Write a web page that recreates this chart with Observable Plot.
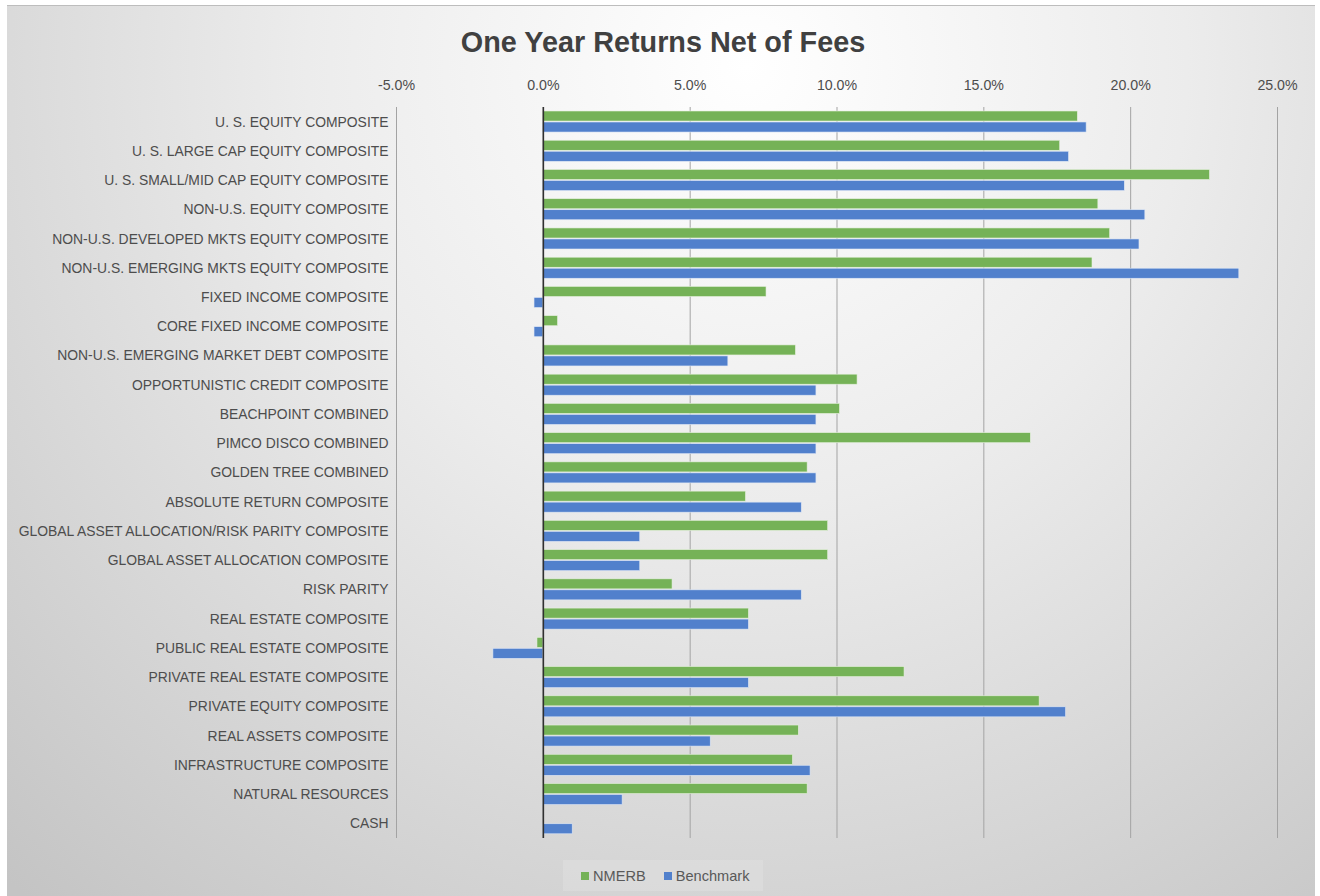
<!DOCTYPE html>
<html>
<head>
<meta charset="utf-8">
<script src="https://cdn.jsdelivr.net/npm/d3@7"></script>
<script src="https://cdn.jsdelivr.net/npm/@observablehq/plot@0.6"></script>
<style>
  html, body { margin: 0; padding: 0; background: #ffffff; width: 1320px; height: 896px; overflow: hidden; }
  #frame {
    position: absolute; left: 7px; top: 5px; width: 1308px; height: 891px;
    border-top: 1.5px solid #bdbdbd;
    background: radial-gradient(circle 1100px at 740px 60px, #ffffff 0%, #ececec 40%, #c4c4c4 100%);
  }
  #title {
    position: absolute; left: 0; top: 25px; width: 1326px; text-align: center;
    font-family: "Liberation Sans", Arial, sans-serif; font-weight: bold; font-size: 28.8px;
    color: #404040; line-height: 34px;
  }
  #chart { position: absolute; left: 0; top: 60px; }
  #legend {
    position: absolute; left: 563px; top: 860px; width: 200px; height: 31px;
    background: rgba(255,255,255,0.14);
    display: flex; align-items: center; padding-left: 18px; box-sizing: border-box;
    font-family: "Liberation Sans", Arial, sans-serif; font-size: 14.6px; color: #595959;
  }
  .sw { display: inline-block; width: 8px; height: 8px; margin-right: 4px; }
  .item { display: flex; align-items: center; margin-right: 18px; }
</style>
</head>
<body>
<div id="frame"></div>
<div id="title">One Year Returns Net of Fees</div>
<div id="chart"></div>
<div id="legend"></div>
<script>
const categories = [
  "U. S. EQUITY COMPOSITE",
  "U. S. LARGE CAP EQUITY COMPOSITE",
  "U. S. SMALL/MID CAP EQUITY COMPOSITE",
  "NON-U.S. EQUITY COMPOSITE",
  "NON-U.S. DEVELOPED MKTS EQUITY COMPOSITE",
  "NON-U.S. EMERGING MKTS EQUITY COMPOSITE",
  "FIXED INCOME COMPOSITE",
  "CORE FIXED INCOME COMPOSITE",
  "NON-U.S. EMERGING MARKET DEBT COMPOSITE",
  "OPPORTUNISTIC CREDIT COMPOSITE",
  "BEACHPOINT COMBINED",
  "PIMCO DISCO COMBINED",
  "GOLDEN TREE COMBINED",
  "ABSOLUTE RETURN COMPOSITE",
  "GLOBAL ASSET ALLOCATION/RISK PARITY COMPOSITE",
  "GLOBAL ASSET ALLOCATION COMPOSITE",
  "RISK PARITY",
  "REAL ESTATE COMPOSITE",
  "PUBLIC REAL ESTATE COMPOSITE",
  "PRIVATE REAL ESTATE COMPOSITE",
  "PRIVATE EQUITY COMPOSITE",
  "REAL ASSETS COMPOSITE",
  "INFRASTRUCTURE COMPOSITE",
  "NATURAL RESOURCES",
  "CASH"
];
const nmerb = [18.2, 17.6, 22.7, 18.9, 19.3, 18.7, 7.6, 0.5, 8.6, 10.7, 10.1, 16.6, 9.0, 6.9, 9.7, 9.7, 4.4, 7.0, -0.2, 12.3, 16.9, 8.7, 8.5, 9.0, null];
const benchmark = [18.5, 17.9, 19.8, 20.5, 20.3, 23.7, -0.3, -0.3, 6.3, 9.3, 9.3, 9.3, 9.3, 8.8, 3.3, 3.3, 8.8, 7.0, -1.7, 7.0, 17.8, 5.7, 9.1, 2.7, 1.0];
const xTicks = [-5, 0, 5, 10, 15, 20, 25];
const seriesNames = ["NMERB", "Benchmark"];
const seriesColors = ["#75b257", "#5180cc"];

const rows = categories.map((c, i) => ({category: c, NMERB: nmerb[i], Benchmark: benchmark[i]}));

const chart = Plot.plot({
  width: 1320,
  height: 788,
  marginLeft: 396,
  marginRight: 43,
  marginTop: 47,
  marginBottom: 10,
  style: {background: "transparent", fontFamily: "'Liberation Sans', Arial, sans-serif", fontSize: "13.9px", color: "#4d4d4d", overflow: "visible"},
  x: {domain: [-5, 25], ticks: xTicks, tickFormat: d => d.toFixed(1) + "%", axis: "top", tickSize: 0, tickPadding: 18, label: null},
  y: {domain: categories, padding: 0, round: false, tickSize: 0, tickPadding: 8, label: null},
  marks: [
    Plot.gridX(xTicks, {stroke: "#a3a3a3", strokeOpacity: 1, strokeWidth: 1}),
    Plot.barX(rows.filter(d => d.NMERB != null), {y: "category", x: "NMERB", fill: seriesColors[0], insetTop: 4, insetBottom: 15.2, stroke: "#e6f0de", strokeWidth: 0.6}),
    Plot.barX(rows.filter(d => d.Benchmark != null), {y: "category", x: "Benchmark", fill: seriesColors[1], insetTop: 15, insetBottom: 4.2, stroke: "#dfe7f5", strokeWidth: 0.6}),
    Plot.ruleX([0], {stroke: "#303030", strokeWidth: 1.6})
  ]
});
chart.querySelectorAll("g[aria-label='x-axis tick label'] text").forEach(t => t.setAttribute("font-size", "14.2px"));
document.getElementById("chart").appendChild(chart);

const legend = document.getElementById("legend");
seriesNames.forEach((name, i) => {
  const item = document.createElement("span");
  item.className = "item";
  const sw = document.createElement("span");
  sw.className = "sw";
  sw.style.background = seriesColors[i];
  item.appendChild(sw);
  item.appendChild(document.createTextNode(name));
  legend.appendChild(item);
});
</script>
</body>
</html>
